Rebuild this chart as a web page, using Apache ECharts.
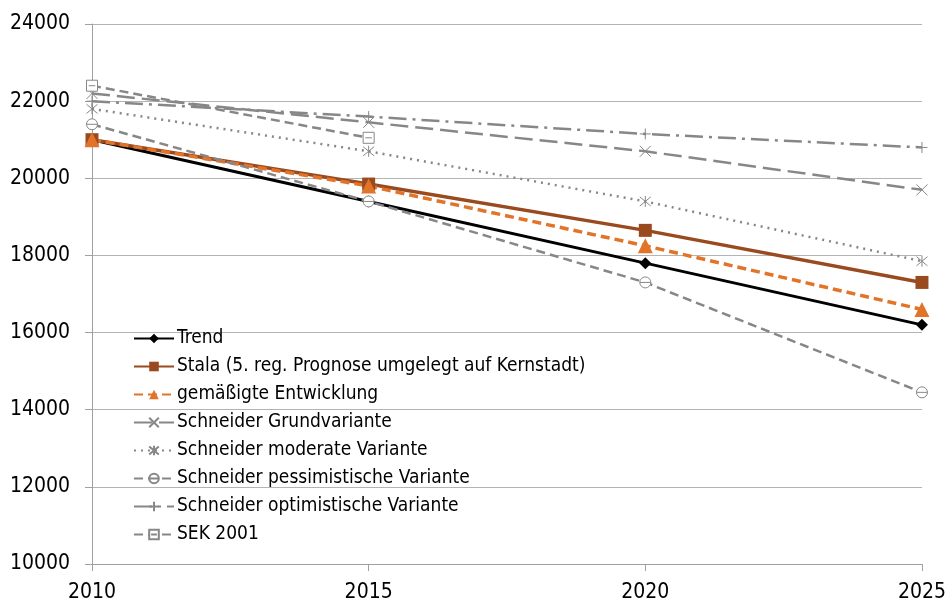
<!DOCTYPE html>
<html>
<head>
<meta charset="utf-8">
<script src="https://cdn.jsdelivr.net/npm/echarts@6/dist/echarts.min.js"></script>
<style>
  html, body { margin: 0; padding: 0; background: #fff; }
  #chart { width: 949px; height: 607px; }
</style>
</head>
<body>
<div id="chart"></div>
<script>
// Jahre und Prognosewerte
const years = [2010, 2015, 2020, 2025]
const trend = [21000, 19400, 17800, 16200]
const stala = [21000, 19850, 18650, 17300]
const gemaessigt = [21000, 19800, 18250, 16600]
const schneiderGrund = [22200, 21450, 20700, 19700]
const schneiderModerat = [21800, 20700, 19400, 17850]
const schneiderPessim = [21400, 19400, 17300, 14450]
const schneiderOptim = [22000, 21600, 21150, 20800]
const sek2001 = [22400, 21050]

const names = [
  'Trend',
  'Stala (5. reg. Prognose umgelegt auf Kernstadt)',
  'gemäßigte Entwicklung',
  'Schneider Grundvariante',
  'Schneider moderate Variante',
  'Schneider pessimistische Variante',
  'Schneider optimistische Variante',
  'SEK 2001'
]

const font = '"DejaVu Sans Condensed", "Liberation Sans Narrow", "Liberation Sans", sans-serif'
const grey = '#878787'
const toPairs = (vals) => vals.map((v, i) => [years[i], v])

// eigene Marker
const crossPath = 'path://M0,0L10,10M10,0L0,10'
const starPath = 'path://M0,0L10,10M10,0L0,10M5,-1L5,11'
const plusPath = 'path://M0,5L10,5M5,0L5,10'
const circlePath = 'path://M0,5A5,5,0,1,1,10,5A5,5,0,1,1,0,5ZM0,5L10,5'
const squarePath = 'path://M0,0L10,0L10,10L0,10ZM2,5L8,5'

const makeSeries = (name, vals, color, width, dash, symbol, size, hollow) => ({
  name: name,
  type: 'line',
  data: toPairs(vals),
  symbol: symbol,
  symbolSize: size,
  showSymbol: true,
  lineStyle: { color: color, width: width, type: dash },
  itemStyle: hollow
    ? { color: '#fff', borderColor: color, borderWidth: 1 }
    : { color: color, borderWidth: 0 },
  emphasis: { disabled: true },
  animation: false
})

const series = [
  makeSeries(names[0], trend, '#000000', 3, 'solid', 'diamond', 12, false),
  makeSeries(names[1], stala, '#9a4a1f', 3.5, 'solid', 'rect', 13, false),
  makeSeries(names[2], gemaessigt, '#e2742a', 3.5, [9, 5], 'triangle', 15, false),
  makeSeries(names[3], schneiderGrund, grey, 2.5, [18, 7], crossPath, 11, true),
  makeSeries(names[4], schneiderModerat, grey, 2.5, [2, 5], starPath, 11, true),
  makeSeries(names[5], schneiderPessim, grey, 2.5, [9, 5], circlePath, 11, true),
  makeSeries(names[6], schneiderOptim, grey, 2.5, [18, 6, 3, 6], plusPath, 11, true),
  makeSeries(names[7], sek2001, grey, 2.5, [9, 5], squarePath, 11, true)
]

const chart = echarts.init(document.getElementById('chart'))
chart.setOption({
  backgroundColor: '#fff',
  animation: false,
  grid: { left: 92, right: 27, top: 24, bottom: 43 },
  legend: {
    orient: 'vertical',
    left: 128,
    top: 324,
    itemWidth: 40,
    itemHeight: 12,
    itemGap: 9,
    data: names,
    textStyle: { fontFamily: font, fontSize: 19, color: '#000', padding: [0, 0, 0, -2] }
  },
  xAxis: {
    type: 'value',
    min: 2010,
    max: 2025,
    interval: 5,
    axisLine: { lineStyle: { color: '#a0a0a0', width: 1 } },
    axisTick: { show: true, length: 7, lineStyle: { color: '#a0a0a0' } },
    splitLine: { show: false },
    axisLabel: { color: '#000', fontSize: 21, fontFamily: font, margin: 18, formatter: (v) => String(v) }
  },
  yAxis: {
    type: 'value',
    min: 10000,
    max: 24000,
    interval: 2000,
    axisLine: { show: true, lineStyle: { color: '#a0a0a0', width: 1 } },
    axisTick: { show: true, length: 7, lineStyle: { color: '#a0a0a0' } },
    splitLine: { lineStyle: { color: '#b4b4b4', width: 1 } },
    axisLabel: { color: '#000', fontSize: 21, fontFamily: font, margin: 22, formatter: (v) => String(v) }
  },
  series: series
})
</script>
</body>
</html>
